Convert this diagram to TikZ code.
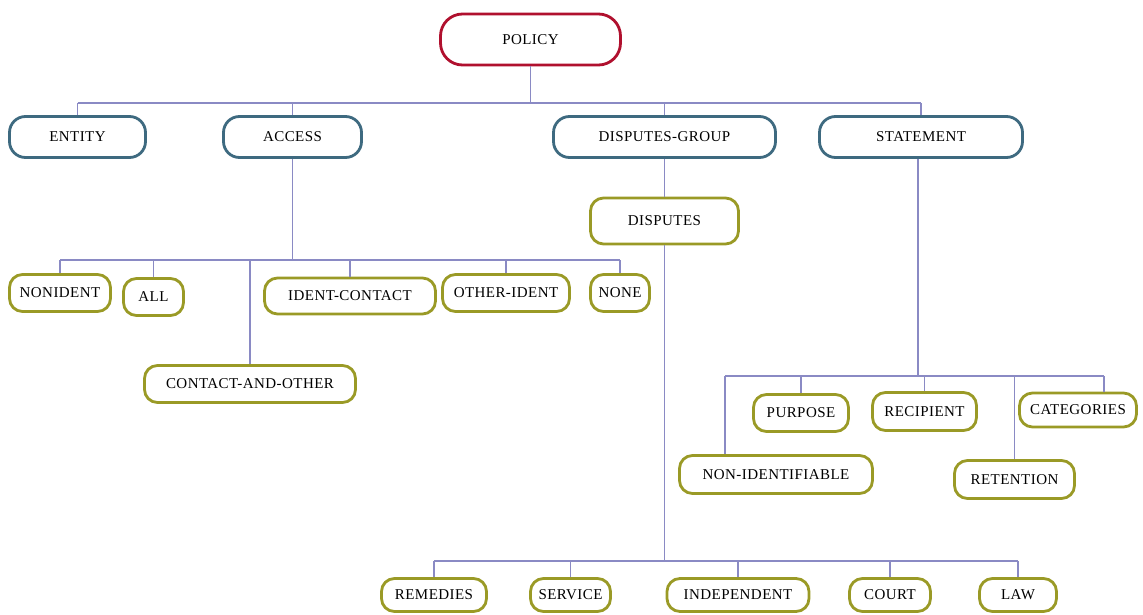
\documentclass[tikz,border=0pt]{standalone}
\usepackage{fontspec}
\setmainfont{Liberation Serif}[LetterSpace=3]
\definecolor{redb}{HTML}{B0102E}
\definecolor{blueb}{HTML}{3E6A80}
\definecolor{oliveb}{HTML}{9A9A26}
\definecolor{linec}{HTML}{8A8AC4}
\begin{document}
\begin{tikzpicture}[x=1pt,y=-1pt]
\tikzset{
  box/.style={draw, line width=2.8pt, rounded corners=13pt, fill=white, inner sep=0pt,
    font=\fontsize{15}{17}\selectfont, text=black},
  topbox/.style={box, draw=redb, rounded corners=22pt},
  bluebox/.style={box, draw=blueb, rounded corners=16pt},
  olivebox/.style={box, draw=oliveb},
  conn/.style={draw=linec, line width=1.1pt},
  sz/.style 2 args={minimum width=#1pt, minimum height=#2pt},
}
\fill[white] (0,0) rectangle (1143,615);
\useasboundingbox (0,0) rectangle (1143,615);

% nodes
\node[topbox, sz={180}{51}] (policy) at (530.5,39.5) {POLICY};

\node[bluebox, sz={136}{41}] (entity) at (77.5,137) {ENTITY};
\node[bluebox, sz={138}{41}] (access) at (292.5,137) {ACCESS};
\node[bluebox, sz={222}{41}] (dgroup) at (664.5,137) {DISPUTES-GROUP};
\node[bluebox, sz={203}{41}] (statement) at (921,137) {STATEMENT};

\node[olivebox, sz={148}{46}] (disputes) at (664.5,221) {DISPUTES};

\node[olivebox, sz={101}{37}] (nonident) at (60,293) {NONIDENT};
\node[olivebox, sz={60}{37}] (all) at (153.5,297) {ALL};
\node[olivebox, sz={171}{36}] (identc) at (350,296) {IDENT-CONTACT};
\node[olivebox, sz={127}{37}] (otherid) at (506,293) {OTHER-IDENT};
\node[olivebox, sz={59}{37}] (none) at (620,293) {NONE};
\node[olivebox, sz={211}{37}] (cao) at (250,384) {CONTACT-AND-OTHER};

\node[olivebox, sz={95}{37}] (purpose) at (801,413) {PURPOSE};
\node[olivebox, sz={104}{38}] (recipient) at (924.5,411.5) {RECIPIENT};
\node[olivebox, sz={117}{34}] (categories) at (1078,410) {CATEGORIES};
\node[olivebox, sz={193}{38}] (nonid) at (776,474.5) {NON-IDENTIFIABLE};
\node[olivebox, sz={120}{38}] (retention) at (1014.5,479.5) {RETENTION};

\node[olivebox, sz={105}{33}] (remedies) at (434,595) {REMEDIES};
\node[olivebox, sz={80}{33}] (service) at (570.5,595) {SERVICE};
\node[olivebox, sz={142}{33}] (independent) at (738,595) {INDEPENDENT};
\node[olivebox, sz={81}{33}] (court) at (890,595) {COURT};
\node[olivebox, sz={77}{33}] (law) at (1018,595) {LAW};

% connectors: top level
\coordinate (tb) at (530.5,103);
\draw[conn] (policy) -- (tb);
\draw[conn] (entity |- tb) -- (statement |- tb);
\foreach \n in {entity,access,dgroup,statement}
  \draw[conn] (\n) -- (\n |- tb);

% access subtree
\coordinate (ab) at (292.5,260);
\draw[conn] (access) -- (ab);
\draw[conn] (nonident |- ab) -- (none |- ab);
\foreach \n in {nonident,all,identc,otherid,none,cao}
  \draw[conn] (\n) -- (\n |- ab);

% disputes subtree
\draw[conn] (dgroup) -- (disputes);
\coordinate (bb) at (664.5,561);
\draw[conn] (disputes) -- (bb);
\draw[conn] (remedies |- bb) -- (law |- bb);
\foreach \n in {remedies,service,independent,court,law}
  \draw[conn] (\n) -- (\n |- bb);

% statement subtree
\coordinate (sb) at (918,376);
\coordinate (sbl) at (725,376);
\coordinate (sbr) at (1104,376);
\draw[conn, line width=1.8pt] (statement.south -| sb) -- (sb);
\draw[conn] (sbl) -- (sbr);
\draw[conn] (sbl) -- (sbl |- nonid.north);
\draw[conn] (sbr) -- (sbr |- categories.north);
\foreach \n in {purpose,recipient,retention}
  \draw[conn] (\n) -- (\n |- sb);
\end{tikzpicture}
\end{document}
